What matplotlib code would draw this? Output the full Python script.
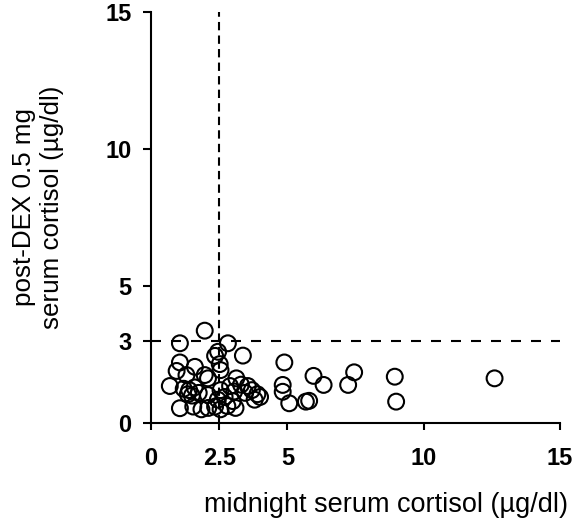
import numpy as np
import matplotlib
matplotlib.use("Agg")
import matplotlib.pyplot as plt

plt.rcParams['font.family'] = ['Liberation Sans', 'DejaVu Sans']

# midnight serum cortisol (x) vs post-DEX cortisol (y)
midnight = [1.97, 1.06, 2.82, 2.46, 2.35, 3.37, 1.06, 1.61, 2.52, 2.55,
            1.30, 2.09, 0.69, 0.94, 1.97,
            1.20, 1.40, 1.60, 1.35, 1.75, 1.50, 2.09, 1.06,
            1.55, 1.85, 2.10, 2.35, 2.55, 2.80, 3.10,
            2.55, 2.70, 2.90, 2.45, 3.00, 3.05,
            3.13, 3.30, 3.55, 3.70, 3.90, 4.00, 3.45, 3.80,
            4.89, 4.83, 4.83, 5.07, 5.68, 5.80, 5.96, 6.33,
            7.23, 7.45, 8.94, 8.99, 12.6]
postdex = [3.37, 2.91, 2.91, 2.60, 2.45, 2.46, 2.21, 2.05, 2.15, 1.93,
           1.75, 1.63, 1.35, 1.90, 1.75,
           1.25, 1.20, 1.30, 1.05, 1.10, 1.00, 1.02, 0.54,
           0.60, 0.50, 0.55, 0.60, 0.50, 0.62, 0.55,
           1.20, 0.95, 1.35, 0.85, 0.80, 1.15,
           1.63, 1.40, 1.35, 1.20, 1.05, 0.95, 1.10, 0.85,
           2.21, 1.39, 1.14, 0.72, 0.78, 0.81, 1.72, 1.39,
           1.39, 1.85, 1.69, 0.78, 1.63]

xticks = [0, 2.5, 5, 10, 15]
xticklabels = ['0', '2.5', '5', '10', '15']
yticks = [0, 3, 5, 10, 15]
cut_x = 2.5
cut_y = 3

fig = plt.figure(figsize=(5.79, 5.26), dpi=100)
ax = fig.add_axes([0.2608, 0.1958, 0.7064, 0.7814])

ax.axvline(cut_x, color='black', lw=1.5, ls=(0, (4, 2.5)), zorder=1)
ax.axhline(cut_y, color='black', lw=1.5, ls=(0, (4.8, 4.8)), zorder=1)
ax.scatter(midnight, postdex, s=130, facecolors='none', edgecolors='black',
           linewidths=1.5, zorder=2)

ax.set_xlim(0, 15)
ax.set_ylim(0, 15)
ax.set_xticks(xticks)
ax.set_xticklabels(xticklabels)
ax.set_yticks(yticks)
ax.set_yticklabels([str(t) for t in yticks])
ax.tick_params(axis='x', direction='out', length=5, width=1.5, pad=12,
               labelsize=17)
ax.tick_params(axis='y', direction='out', length=6, width=1.5, pad=8,
               labelsize=17)
for t in ax.get_xticklabels() + ax.get_yticklabels():
    t.set_fontweight('bold')

for side in ['top', 'right']:
    ax.spines[side].set_visible(False)
for side in ['left', 'bottom']:
    ax.spines[side].set_linewidth(1.5)

ax.set_xlabel('midnight serum cortisol (µg/dl)', fontsize=19.5, va='center')
ax.xaxis.set_label_coords(0.575, -0.1995)
ax.set_ylabel('post-DEX 0.5 mg\nserum cortisol (µg/dl)', fontsize=18.7,
              va='center', linespacing=1.25)
ax.yaxis.set_label_coords(-0.276, 0.526)

fig.savefig('out.png', dpi=100)
